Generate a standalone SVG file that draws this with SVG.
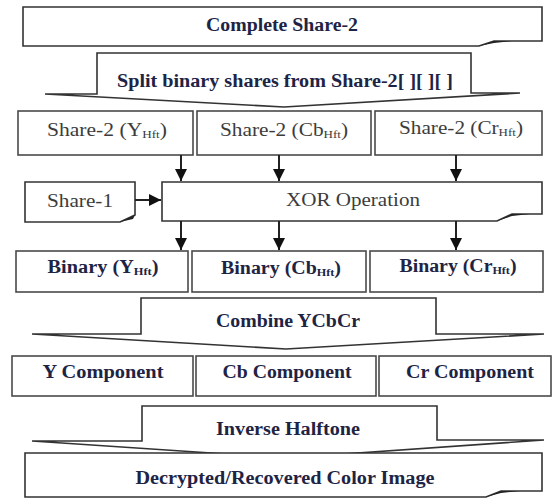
<svg xmlns="http://www.w3.org/2000/svg" width="552" height="501" viewBox="0 0 552 501">
<defs>
<style>
.box{fill:#fff;stroke:#4a4a4a;stroke-width:1.6}
.blk{fill:#fff;stroke:#333;stroke-width:1.6;stroke-linejoin:miter}
.wedge{fill:#222;stroke:none}
text{font-family:'Liberation Serif','Times New Roman','DejaVu Serif',serif;font-size:18px;text-anchor:middle}
.n{fill:#1e2444;font-weight:bold}
.g{fill:#3c3c3c}
.sub{font-size:11px}
.conn line{stroke:#222;stroke-width:2}
</style>
<marker id="ah" markerUnits="userSpaceOnUse" markerWidth="14" markerHeight="12" refX="12" refY="6" orient="auto">
<path d="M0,0 L12,6 L0,12 Z" fill="#111"/>
</marker>
</defs>
<rect width="552" height="501" fill="#fff"/>

<g id="complete-share2">
<path class="blk" d="M23,7 H542 V41 H494 L479,46 H23 Z"/>
<path class="wedge" d="M479,46 L494,41 L512,41 L494,43 Z"/>
<text class="n" x="282" y="31" textLength="152" lengthAdjust="spacingAndGlyphs">Complete Share-2</text>
</g>

<g id="split">
<path class="blk" d="M97,53 H471 V93 H520 L284,107 L45,94 H97 Z"/>
<text class="n" x="285" y="87" textLength="336" lengthAdjust="spacingAndGlyphs">Split binary shares from Share-2[ ][ ][ ]</text>
</g>

<g id="share2-y">
<rect class="box" x="18" y="111" width="175" height="44"/>
<text class="g" x="107" y="136" textLength="120" lengthAdjust="spacingAndGlyphs">Share-2 (Y<tspan class="sub" dy="2">Hft</tspan><tspan dy="-2">)</tspan></text>
</g>
<g id="share2-cb">
<rect class="box" x="197" y="111" width="174" height="44"/>
<text class="g" x="284" y="136" textLength="128" lengthAdjust="spacingAndGlyphs">Share-2 (Cb<tspan class="sub" dy="2">Hft</tspan><tspan dy="-2">)</tspan></text>
</g>
<g id="share2-cr">
<rect class="box" x="375" y="111" width="167" height="44"/>
<text class="g" x="461" y="134" textLength="124" lengthAdjust="spacingAndGlyphs">Share-2 (Cr<tspan class="sub" dy="2">Hft</tspan><tspan dy="-2">)</tspan></text>
</g>

<g id="share1">
<path class="blk" d="M25,182 H135 V215 L120,222 H25 Z"/>
<path class="wedge" d="M120,222 L135,215 L133,219 Z"/>
<text class="g" x="80" y="207" textLength="66" lengthAdjust="spacingAndGlyphs">Share-1</text>
</g>

<g id="xor">
<path class="blk" d="M162,182 H542 V214 H512 L497,221 H162 Z"/>
<path class="wedge" d="M497,221 L512,214 L530,214 L512,216 Z"/>
<text class="g" x="353" y="206" textLength="134" lengthAdjust="spacingAndGlyphs">XOR Operation</text>
</g>

<g id="binary-y">
<rect class="box" x="16" y="251" width="172" height="41"/>
<text class="n" x="103" y="273" textLength="111" lengthAdjust="spacingAndGlyphs">Binary (Y<tspan class="sub" dy="2">Hft</tspan><tspan dy="-2">)</tspan></text>
</g>
<g id="binary-cb">
<rect class="box" x="192" y="251" width="174" height="41"/>
<text class="n" x="281" y="274" textLength="120" lengthAdjust="spacingAndGlyphs">Binary (Cb<tspan class="sub" dy="2">Hft</tspan><tspan dy="-2">)</tspan></text>
</g>
<g id="binary-cr">
<rect class="box" x="370" y="251" width="173" height="41"/>
<text class="n" x="458" y="272" textLength="117" lengthAdjust="spacingAndGlyphs">Binary (Cr<tspan class="sub" dy="2">Hft</tspan><tspan dy="-2">)</tspan></text>
</g>

<g id="combine">
<path class="blk" d="M141,298 H436 V334 H544 L286,349 L32,334 H141 Z"/>
<text class="n" x="288" y="327" textLength="144" lengthAdjust="spacingAndGlyphs">Combine YCbCr</text>
</g>

<g id="y-comp">
<rect class="box" x="12" y="356" width="181" height="40"/>
<text class="n" x="103" y="378" textLength="121" lengthAdjust="spacingAndGlyphs">Y Component</text>
</g>
<g id="cb-comp">
<rect class="box" x="196" y="356" width="180" height="40"/>
<text class="n" x="287" y="378" textLength="129" lengthAdjust="spacingAndGlyphs">Cb Component</text>
</g>
<g id="cr-comp">
<rect class="box" x="379" y="356" width="172" height="40"/>
<text class="n" x="470" y="378" textLength="128" lengthAdjust="spacingAndGlyphs">Cr Component</text>
</g>

<g id="inverse">
<path class="blk" d="M142,406 H437 V440 H544 L286,458 L32,441 H142 Z"/>
<text class="n" x="288" y="435" textLength="144" lengthAdjust="spacingAndGlyphs">Inverse Halftone</text>
</g>

<g id="decrypted">
<path class="blk" d="M25,453 H542 V491 H501 L486,497 H25 Z"/>
<path class="wedge" d="M486,497 L501,491 L520,491 L501,493 Z"/>
<text class="n" x="285" y="484" textLength="299" lengthAdjust="spacingAndGlyphs">Decrypted/Recovered Color Image</text>
</g>

<g id="connectors" class="conn">
<line x1="181" y1="155" x2="181" y2="181" marker-end="url(#ah)"/>
<line x1="279" y1="155" x2="279" y2="181" marker-end="url(#ah)"/>
<line x1="456" y1="155" x2="456" y2="181" marker-end="url(#ah)"/>
<line x1="135" y1="200" x2="161" y2="200" marker-end="url(#ah)"/>
<line x1="181" y1="221" x2="181" y2="250" marker-end="url(#ah)"/>
<line x1="279" y1="221" x2="279" y2="250" marker-end="url(#ah)"/>
<line x1="456" y1="221" x2="456" y2="250" marker-end="url(#ah)"/>
</g>
</svg>
